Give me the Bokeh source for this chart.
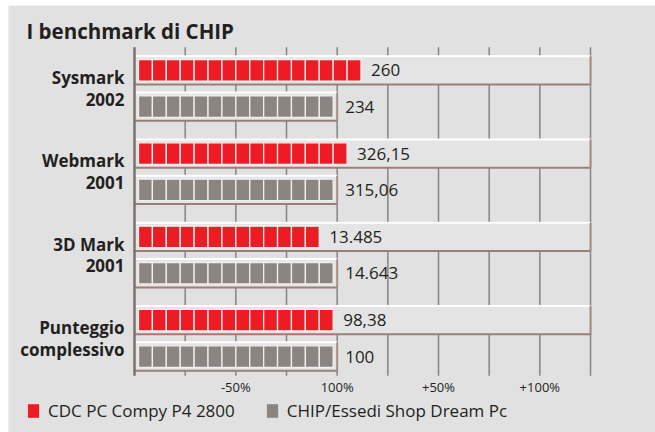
import math
from bokeh.plotting import figure
from bokeh.models import Range1d, Label, Legend, LegendItem
from bokeh.core.properties import value
from bokeh.embed import file_html
from bokeh.resources import INLINE

# ---------------- data ----------------
cat_line1 = ["Sysmark", "Webmark", "3D Mark", "Punteggio"]
cat_line2 = ["2002", "2001", "2001", "complessivo"]
cdc_values = [260, 326.15, 13485, 98.38]
chip_values = [234, 315.06, 14643, 100]
cdc_labels = ["260", "326,15", "13.485", "98,38"]
chip_labels = ["234", "315,06", "14.643", "100"]
series_names = ["CDC PC Compy P4 2800", "CHIP/Essedi Shop Dream Pc"]
series_colors = ["#ed1c24", "#8b8581"]
grid_values = [25, 50, 75, 100, 125, 150, 175, 200, 225]
tick_values = [50, 100, 150, 200]
tick_labels = ["-50%", "100%", "+50%", "+100%"]
title_text = "I benchmark di CHIP"

# ------------- styling / layout -------------
BG = "#e1e1e1"
FONT = "Open Sans"
TXT = "#231f20"
ROW_OFF = 0.218
TRACK_H = 0.17
BLOCK_H = 0.129
SCALE_MAX = 225
BLOCKS_PER_100 = 14
INSET = 1.97
PERIOD = (100 - 2 * INSET) / BLOCKS_PER_100

cdc_pct = [c / g * 100 for c, g in zip(cdc_values, chip_values)]
idx = list(range(len(cat_line1)))
red_y = [i - ROW_OFF for i in idx]
gray_y = [i + ROW_OFF for i in idx]

p = figure(width=655, height=432,
           x_range=Range1d(-62.17, 257.07), y_range=Range1d(4.130, -0.996),
           x_axis_type=None, y_axis_type=None,
           toolbar_location=None, output_backend="svg",
           min_border=0, min_border_left=8, min_border_top=5,
           background_fill_color=BG, border_fill_color="white",
           outline_line_color=None)

# grid lines
g_top, g_bot = -0.496, 3.45
p.segment(x0=grid_values, y0=[g_top] * len(grid_values), x1=grid_values,
          y1=[g_bot] * len(grid_values), line_color="#858585", line_width=1.5)

# tracks
def track(ys, right):
    n = len(ys)
    tops = [y - TRACK_H for y in ys]
    bots = [y + TRACK_H for y in ys]
    p.quad(left=[0] * n, right=[right] * n, top=tops, bottom=bots,
           fill_color="#e4e4e4", line_color=None)
    p.segment(x0=[0] * n, y0=tops, x1=[right] * n, y1=tops,
              line_color="#ffffff", line_width=2)
    p.segment(x0=[0] * n, y0=bots, x1=[right] * n, y1=bots,
              line_color="#9a7f77", line_width=2)
    p.segment(x0=[right] * n, y0=tops, x1=[right] * n, y1=bots,
              line_color="#a68d86", line_width=2)

track(red_y, SCALE_MAX)
track(gray_y, 100)

# segmented bars: number of blocks follows the value
def blocks(ys, pcts, color):
    L, R, T, B, ends = [], [], [], [], []
    for y, v in zip(ys, pcts):
        n = max(1, math.ceil(v * BLOCKS_PER_100 / 100 - 1e-9))
        for k in range(n):
            L.append(INSET + k * PERIOD)
            R.append(INSET + (k + 1) * PERIOD)
            T.append(y - BLOCK_H)
            B.append(y + BLOCK_H)
        ends.append(INSET + n * PERIOD)
    p.quad(left=L, right=R, top=T, bottom=B, fill_color=color,
           line_color="#f2eeee", line_width=1.3)
    return ends

red_end = blocks(red_y, cdc_pct, series_colors[0])
blocks(gray_y, [100.0] * len(idx), series_colors[1])

# axis line
p.segment(x0=[0], y0=[g_top], x1=[0], y1=[g_bot], line_color="#7b716d", line_width=2.5)

# value labels
p.text(x=red_end, y=red_y, text=cdc_labels, x_offset=10, text_baseline="middle",
       text_font=value(FONT), text_font_size="17px", text_color=TXT)
p.text(x=[100] * len(idx), y=gray_y, text=chip_labels, x_offset=8, text_baseline="middle",
       text_font=value(FONT), text_font_size="17px", text_color=TXT)

# category labels (two lines)
for lines, dy in ((cat_line1, -10.9), (cat_line2, 10.9)):
    p.text(x=[-4.93] * len(idx), y=idx, text=lines, y_offset=dy, text_align="right",
           text_baseline="middle", text_font=value(FONT), text_font_style="bold",
           text_font_size="17px", text_color=TXT)

# tick labels
p.text(x=tick_values, y=[3.589] * len(tick_values), text=tick_labels,
       text_align="center", text_baseline="middle", text_font=value(FONT),
       text_font_size="13px", text_color=TXT)

# title
p.add_layout(Label(x=-53.3, y=-0.69, text=title_text,
                   text_font=FONT, text_font_style="bold", text_font_size="20.5px",
                   text_color=TXT, text_baseline="alphabetic"))

# legend
nan = float("nan")
items = []
for name, col in zip(series_names, series_colors):
    r = p.quad(left=[nan], right=[nan], top=[nan], bottom=[nan], fill_color=col, line_color=None)
    items.append(LegendItem(label=name, renderers=[r]))
leg = Legend(items=items, orientation="horizontal", location=(18, 10),
             glyph_width=14, glyph_height=17, label_height=17, label_standoff=8,
             spacing=30, padding=0, margin=0, border_line_color=None,
             background_fill_alpha=0, label_text_font=FONT, label_text_font_size="17px",
             label_text_color=TXT, label_text_baseline="middle")
p.add_layout(leg)

open("out.html", "w").write(file_html(p, INLINE))
